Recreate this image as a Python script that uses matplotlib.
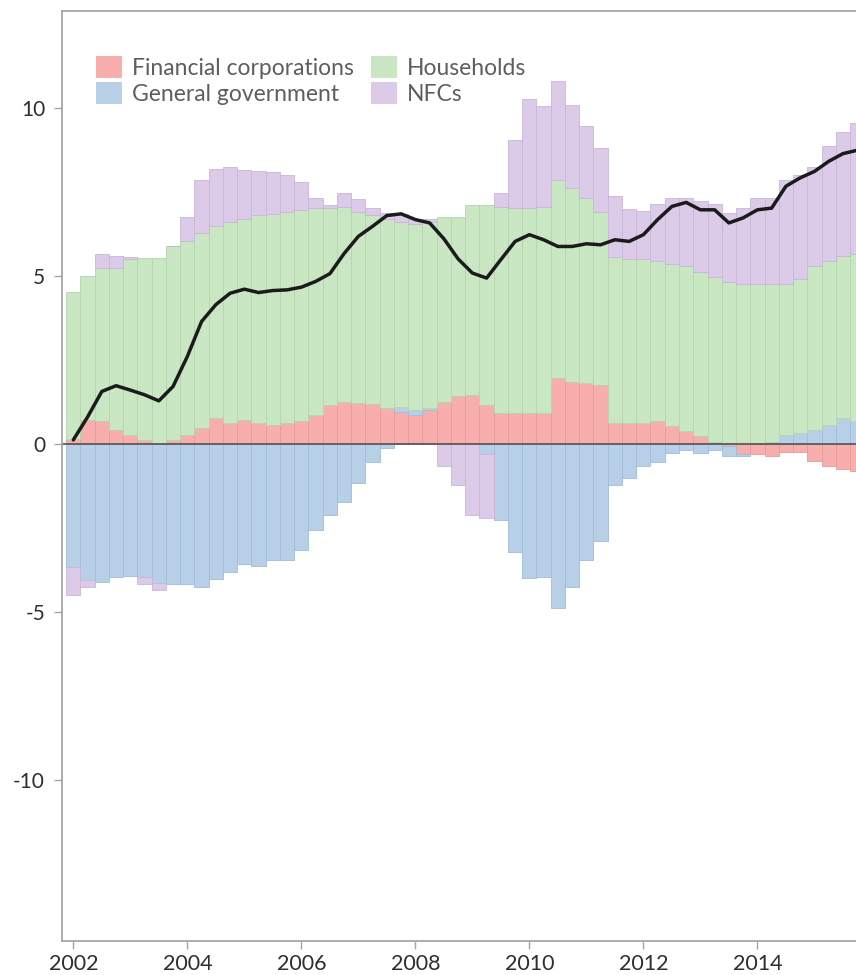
import numpy as np
import matplotlib
matplotlib.use("Agg")
import matplotlib.pyplot as plt
from matplotlib.patches import Patch

plt.rcParams['font.family'] = ['Lato', 'DejaVu Sans']
plt.rcParams['axes.unicode_minus'] = False

# quarterly data, 2002Q1 .. 2015Q4 (percentage points)
start_year = 2002
fin_corps = [0.15, 0.71, 0.68, 0.42, 0.26, 0.12, 0.04, 0.12, 0.26, 0.46,
             0.77, 0.62, 0.70, 0.62, 0.57, 0.62, 0.67, 0.86, 1.16, 1.26,
             1.21, 1.19, 1.06, 0.96, 0.86, 1.00, 1.26, 1.41, 1.46, 1.16,
             0.93, 0.91, 0.93, 0.93, 1.95, 1.85, 1.80, 1.75, 0.62, 0.62,
             0.62, 0.67, 0.52, 0.37, 0.22, 0.07, -0.05, -0.30, -0.30, -0.35,
             -0.25, -0.25, -0.50, -0.65, -0.75, -0.80]
gen_gov = [-3.65, -4.05, -4.10, -3.95, -3.93, -3.95, -4.15, -4.17, -4.17, -4.25,
           -4.03, -3.80, -3.57, -3.63, -3.45, -3.45, -3.15, -2.56, -2.11, -1.72,
           -1.17, -0.53, -0.12, 0.14, 0.14, 0.08, 0.00, 0.00, 0.00, -0.30,
           -2.26, -3.20, -4.00, -3.95, -4.89, -4.25, -3.45, -2.90, -1.22, -1.02,
           -0.67, -0.53, -0.28, -0.18, -0.28, -0.18, -0.30, -0.05, 0.00, 0.05,
           0.25, 0.32, 0.42, 0.57, 0.76, 0.67]
households = [4.38, 4.29, 4.56, 4.82, 5.24, 5.42, 5.50, 5.75, 5.76, 5.82,
              5.70, 5.98, 6.00, 6.18, 6.28, 6.28, 6.28, 6.14, 5.84, 5.79,
              5.69, 5.61, 5.64, 5.50, 5.55, 5.52, 5.50, 5.35, 5.65, 5.95,
              6.12, 6.09, 6.07, 6.12, 5.90, 5.75, 5.50, 5.15, 4.93, 4.88,
              4.88, 4.78, 4.83, 4.93, 4.88, 4.89, 4.80, 4.75, 4.75, 4.70,
              4.50, 4.58, 4.88, 4.88, 4.84, 4.98]
nfcs = [-0.85, -0.20, 0.41, 0.36, 0.05, -0.22, -0.20, 0.00, 0.73, 1.58,
        1.71, 1.64, 1.45, 1.30, 1.23, 1.09, 0.83, 0.32, 0.11, 0.41,
        0.39, 0.20, 0.17, 0.24, 0.15, 0.10, -0.67, -1.22, -2.11, -1.90,
        0.41, 2.05, 3.24, 3.01, 2.93, 2.49, 2.14, 1.90, 1.83, 1.49,
        1.41, 1.69, 1.96, 2.01, 2.11, 2.18, 2.07, 2.25, 2.56, 2.56,
        3.11, 3.10, 2.94, 3.42, 3.67, 3.90]
total = [0.12, 0.80, 1.56, 1.73, 1.60, 1.46, 1.28, 1.71, 2.60, 3.64,
         4.14, 4.48, 4.60, 4.50, 4.56, 4.58, 4.66, 4.83, 5.06, 5.66,
         6.17, 6.47, 6.79, 6.84, 6.67, 6.57, 6.10, 5.50, 5.08, 4.93,
         5.48, 6.02, 6.22, 6.07, 5.87, 5.87, 5.95, 5.92, 6.07, 6.02,
         6.22, 6.67, 7.06, 7.18, 6.96, 6.96, 6.57, 6.72, 6.96, 7.01,
         7.66, 7.91, 8.10, 8.40, 8.63, 8.73]

series = [
    ("Financial corporations", fin_corps, "#f8aeac", "#e79a98"),
    ("General government", gen_gov, "#b7cfe7", "#a3bdd6"),
    ("Households", households, "#cae7c4", "#b5d5ae"),
    ("NFCs", nfcs, "#dccbe8", "#c9b6d8"),
]

x = start_year + np.arange(len(total)) / 4.0

fig = plt.figure(figsize=(8.56, 9.75), dpi=100)
ax = fig.add_axes([61.7 / 856, 1 - 941 / 975, (856 - 61.7) / 856, (941 - 10.7) / 975])

pos_base = np.zeros(len(x))
neg_base = np.zeros(len(x))
for name, vals, col, edge in series:
    v = np.array(vals)
    bottom = np.where(v >= 0, pos_base, neg_base)
    ax.bar(x, v, width=0.25, bottom=bottom, color=col, edgecolor=edge,
           linewidth=0.6, zorder=1)
    pos_base = pos_base + np.clip(v, 0, None)
    neg_base = neg_base + np.clip(v, None, 0)

ax.axhline(0, color="#5a5a5a", lw=1.3, zorder=2)
ax.plot(x, total, color="#1b1b1b", lw=2.5, zorder=3, solid_capstyle="round")

ax.set_xlim(2001.796, 2015.73)
ax.set_ylim(-14.78, 12.88)

ax.set_xticks(range(2002, 2016, 2))
ax.set_xticklabels([str(y) for y in range(2002, 2016, 2)])
ax.set_yticks([-10, -5, 0, 5, 10])
ax.set_yticklabels(["-10", "-5", "0", "5", "10"])

for side in ["left", "top", "bottom"]:
    ax.spines[side].set_color("#a6a6a6")
    ax.spines[side].set_linewidth(1.3)
ax.spines["right"].set_visible(False)

ax.tick_params(axis="x", length=6, width=1, color="#a6a6a6", labelsize=15.5,
               labelcolor="#2e2e2e", pad=3)
ax.tick_params(axis="y", length=6, width=1, color="#a6a6a6", labelsize=15,
               labelcolor="#2e2e2e", pad=6)

# legend in two independent columns
ax_w = 856 - 61.7
ax_h = 941 - 10.7
def to_axes(px, py):
    return ((px - 61.7) / ax_w, (941 - py) / ax_h)

handles1 = [Patch(facecolor=s[2], edgecolor="none", label=s[0]) for s in series[:2]]
handles2 = [Patch(facecolor=s[2], edgecolor="none", label=s[0]) for s in series[2:]]

leg_kw = dict(frameon=False, fontsize=16.5, handlelength=1.13, handleheight=1.13,
              handletextpad=0.45, labelspacing=0.12, borderpad=0, borderaxespad=0,
              labelcolor="#5e5e5e", loc="upper left")
leg1 = ax.legend(handles=handles1, bbox_to_anchor=to_axes(96, 56), **leg_kw)
ax.add_artist(leg1)
ax.legend(handles=handles2, bbox_to_anchor=to_axes(371, 56), **leg_kw)

fig.savefig("out.png", dpi=100)
